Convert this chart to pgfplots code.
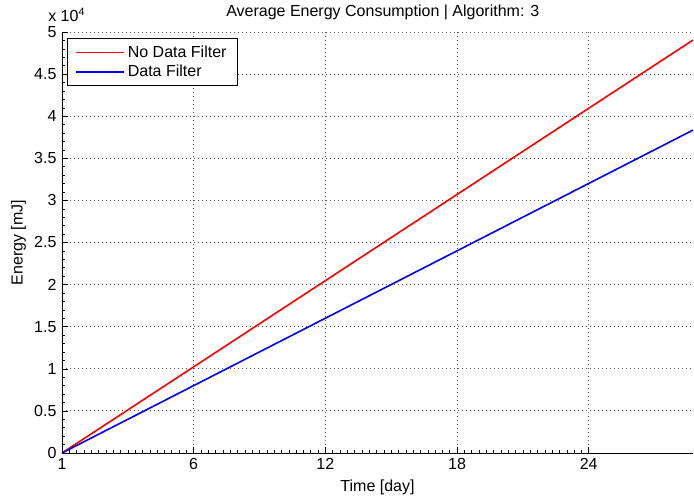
\documentclass[border=0pt]{standalone}
\usepackage{pgfplots}
\pgfplotsset{compat=1.18}
\usepackage{fontspec}
\setmainfont{Liberation Sans}
\begin{document}
\fontsize{12}{14}\selectfont
\begin{tikzpicture}
\begin{axis}[
  scale only axis,
  width=473.25pt, height=315.75pt,
  xmin=0, xmax=28.75, ymin=0, ymax=50000,
  axis x line*=bottom, axis y line*=left,
  axis line style={-, black, line width=0.5pt},
  xtick={0,6,12,18,24}, xticklabels={1,6,12,18,24},
  minor x tick num=17,
  ytick={0,5000,10000,15000,20000,25000,30000,35000,40000,45000,50000},
  yticklabels={0,0.5,1,1.5,2,2.5,3,3.5,4,4.5,5},
  scaled y ticks=false,
  minor y tick num=4,
  tick align=inside,
  major tick length=4.5pt, minor tick length=2.5pt,
  tick style={black, line width=0.4pt},
  grid=major,
  major grid style={black!65, line width=0.6pt, dash pattern=on 0.75pt off 2.25pt},
  /pgf/number format/assume math mode=true,
  ticklabel style={font=\fontsize{12}{14}\selectfont},
  title={Average Energy Consumption | Algorithm: 3},
  title style={font=\fontsize{12}{14}\selectfont, yshift=-1pt, xshift=4pt},
  xlabel={Time [day]}, ylabel={Energy [mJ]},
  label style={font=\fontsize{12}{14}\selectfont},
  xlabel style={yshift=1pt},
  ylabel style={yshift=-2pt},
  legend style={at={(rel axis cs:0.008,0.985)}, anchor=north west,
    draw=black, line width=0.8pt, font=\fontsize{12}{14}\selectfont,
    inner xsep=6pt, inner ysep=3pt, row sep=0pt, legend cell align=left},
  legend image code/.code={\draw[#1] plot coordinates {(0pt,0pt) (36pt,0pt)};},
  clip=true,
]
\addplot[draw=red, line width=1.2pt] coordinates {(0,0) (28.75,49050)};
\addlegendentry{No Data Filter}
\addplot[draw=blue, line width=1.2pt] coordinates {(0,0) (28.75,38350)};
\addlegendentry{Data Filter}
\end{axis}
\node[anchor=base west, font=\fontsize{12}{14}\selectfont, inner sep=0pt] at ([shift={(-10.5pt,8pt)}]current axis.north west) {x 10\textsuperscript{4}};
\pgfresetboundingbox
\path[use as bounding box] ([shift={(-46.5pt,-35.25pt)}]current axis.south west) rectangle ([shift={(0.75pt,24pt)}]current axis.north east);
\end{tikzpicture}
\end{document}
